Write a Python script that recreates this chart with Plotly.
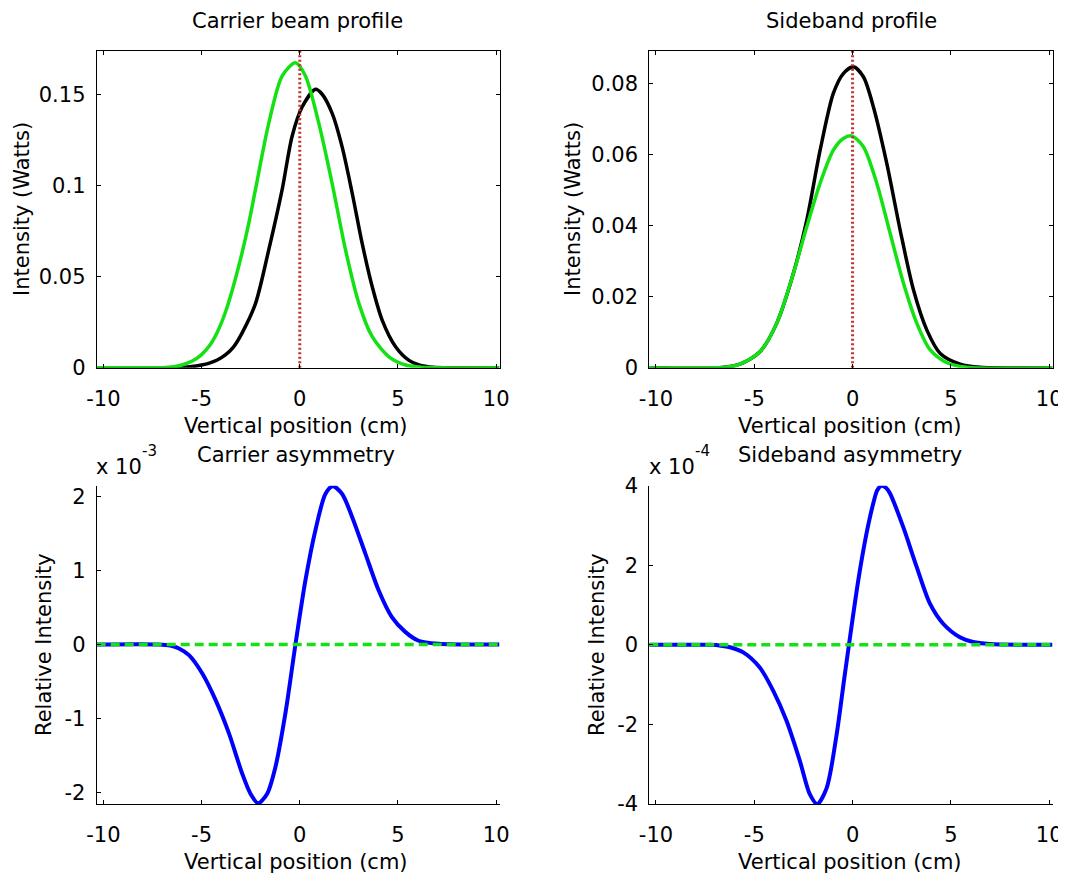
import plotly.graph_objects as go

# ---------------- data ----------------
# Carrier beam profile (top-left)
carrier_black_x = [-10.34, -7.0, -6.0, -5.5, -5.0, -4.64, -4.2, -3.79, -3.4, -2.94, -2.26, -1.58,
                   -0.90, -0.39, 0.12, 0.80, 1.14, 1.65, 2.16, 2.67, 3.18, 3.69, 4.2, 4.88, 5.56,
                   6.07, 6.8, 10.17]
carrier_black_y = [0, 0, 0.0002, 0.0006, 0.0015, 0.0024, 0.0042, 0.007, 0.011, 0.019, 0.035,
                   0.0646, 0.0975, 0.127, 0.143, 0.1527, 0.1500, 0.1395, 0.121, 0.0957, 0.068,
                   0.0444, 0.026, 0.0115, 0.004, 0.0015, 0.0002, 0]
carrier_green_x = [-10.34, -7.2, -6.6, -6.0, -5.5, -5.0, -4.6, -4.2, -3.8, -3.4, -2.94, -2.6,
                   -2.26, -1.58, -0.90, -0.22, 0.29, 0.97, 1.65, 2.33, 3.01, 3.69, 4.54, 5.39,
                   6.2, 10.17]
carrier_green_y = [0, 0, 0.0003, 0.0015, 0.0035, 0.0072, 0.012, 0.0195, 0.030, 0.044, 0.063,
                   0.079, 0.0975, 0.134, 0.160, 0.1673, 0.160, 0.134, 0.101, 0.0646, 0.0353,
                   0.017, 0.006, 0.0015, 0.0002, 0]

# Sideband profile (top-right)
side_black_x = [-10.34, -6.75, -5.73, -4.71, -3.86, -3.01, -2.33, -1.65, -0.98, -0.47, 0.04,
                0.55, 1.06, 1.74, 2.42, 3.1, 3.78, 4.46, 5.47, 6.5, 10.17]
side_black_y = [0, 0, 0.001, 0.0045, 0.0125, 0.0266, 0.0416, 0.0613, 0.0773, 0.0829, 0.0848,
                0.082, 0.0735, 0.0576, 0.0388, 0.0219, 0.0106, 0.004, 0.001, 0.0001, 0]
side_green_x = [-10.34, -6.5, -5.73, -4.71, -3.86, -3.01, -2.33, -1.65, -0.98, -0.47, -0.05,
                0.55, 1.23, 1.91, 2.59, 3.27, 3.95, 4.8, 5.8, 10.17]
side_green_y = [0, 0.0001, 0.001, 0.0045, 0.0125, 0.0266, 0.0397, 0.052, 0.0613, 0.0646, 0.0653,
                0.0623, 0.052, 0.0379, 0.0238, 0.0125, 0.005, 0.0014, 0.0001, 0]

# Beam centre reference (red dotted)
center_x = [0, 0]
carrier_center_y = [0, 0.174]
side_center_y = [0, 0.0894]

# Carrier asymmetry (bottom-left)
carrier_asym_x = [-10.34, -7.2, -6.6, -6.15, -5.64, -4.97, -4.29, -3.61, -2.93, -2.51, -2.12,
                  -1.66, -1.24, -0.73, -0.22, 0.29, 0.80, 1.31, 1.68, 2.15, 2.66, 3.34, 4.02,
                  4.69, 5.37, 6.05, 7.07, 10.17]
carrier_asym_y = [0, 0, -0.015e-3, -0.054e-3, -0.145e-3, -0.39e-3, -0.75e-3, -1.2e-3, -1.75e-3,
                  -2.02e-3, -2.15e-3, -2.02e-3, -1.66e-3, -0.93e-3, 0.0, 0.87e-3, 1.55e-3,
                  2.04e-3, 2.14e-3, 2.04e-3, 1.73e-3, 1.23e-3, 0.73e-3, 0.37e-3, 0.17e-3,
                  0.05e-3, 0.01e-3, 0]

# Sideband asymmetry (bottom-right)
side_asym_x = [-10.34, -7.2, -6.7, -6.24, -5.56, -4.72, -4.04, -3.36, -2.68, -2.17, -1.8, -1.32,
               -0.81, -0.39, 0.29, 0.71, 1.05, 1.25, 1.47, 1.7, 1.9, 2.57, 3.26, 3.93, 4.61,
               5.46, 6.13, 6.98, 10.17]
side_asym_y = [0, 0, -0.02e-4, -0.06e-4, -0.19e-4, -0.57e-4, -1.15e-4, -1.91e-4, -2.92e-4,
               -3.76e-4, -4.0e-4, -3.6e-4, -2.25e-4, -0.73e-4, 1.62e-4, 2.8e-4, 3.55e-4,
               3.88e-4, 4.0e-4, 3.95e-4, 3.81e-4, 2.97e-4, 1.96e-4, 1.04e-4, 0.53e-4, 0.19e-4,
               0.07e-4, 0.02e-4, 0]

zero_x = [-10.34, 10.17]
zero_y = [0, 0]

x_ticks = [-10, -5, 0, 5, 10]
x_ticktext = ["-10", "-5", "0", "5", "10"]
carrier_yticks = [0, 0.05, 0.1, 0.15]
carrier_yticktext = ["0", "0.05", "0.1", "0.15"]
side_yticks = [0, 0.02, 0.04, 0.06, 0.08]
side_yticktext = ["0", "0.02", "0.04", "0.06", "0.08"]
carrier_asym_yticks = [-2e-3, -1e-3, 0, 1e-3, 2e-3]
carrier_asym_yticktext = ["-2", "-1", "0", "1", "2"]
side_asym_yticks = [-4e-4, -2e-4, 0, 2e-4, 4e-4]
side_asym_yticktext = ["-4", "-2", "0", "2", "4"]

# ---------------- layout helpers ----------------
OFF = 8            # page body margin of the html wrapper
W, H = 1058, 865   # figure size so that the page is exactly 1066 x 881
FONT = "DejaVu Sans"
FS = 21
BLACK = "black"
GREEN = "rgb(20,225,20)"
BLUE = "rgb(0,0,255)"
RED = "rgb(190,50,50)"


def px_x(p):
    return (p - OFF) / W


def px_y(p):
    return 1 - (p - OFF) / H


LEFT = [px_x(96.7), px_x(499.5)]
RIGHT = [px_x(649.3), px_x(1052.5)]
TOP = [px_y(367.7), px_y(50.5)]
BOT = [px_y(804), px_y(485.7)]
X_RANGE = [-10.34, 10.17]

fig = go.Figure()


def line(x, y, color, xa, ya, width=3.5, dash="solid", shape="spline"):
    fig.add_trace(go.Scatter(x=x, y=y, mode="lines", xaxis=xa, yaxis=ya,
                             line=dict(color=color, width=width, dash=dash, shape=shape,
                                       smoothing=0.8 if shape == "spline" else None),
                             hoverinfo="skip", showlegend=False))


line(carrier_black_x, carrier_black_y, BLACK, "x", "y")
line(carrier_green_x, carrier_green_y, GREEN, "x", "y")
line(center_x, carrier_center_y, RED, "x", "y", width=3, dash="2px,2.5px", shape="linear")

line(side_black_x, side_black_y, BLACK, "x2", "y2")
line(side_green_x, side_green_y, GREEN, "x2", "y2")
line(center_x, side_center_y, RED, "x2", "y2", width=3, dash="2px,2.5px", shape="linear")

line(carrier_asym_x, carrier_asym_y, BLUE, "x3", "y3", width=4)
line(zero_x, zero_y, GREEN, "x3", "y3", width=3.5, dash="9px,5px", shape="linear")

line(side_asym_x, side_asym_y, BLUE, "x4", "y4", width=4)
line(zero_x, zero_y, GREEN, "x4", "y4", width=3.5, dash="9px,5px", shape="linear")


def xaxis(domain, anchor, mirror):
    return dict(domain=domain, anchor=anchor, range=X_RANGE, tickvals=x_ticks,
                ticktext=x_ticktext, ticks="inside", ticklen=4, tickcolor=BLACK,
                showline=True, linecolor=BLACK, linewidth=1, mirror=mirror,
                showgrid=False, zeroline=False, automargin=False, ticklabelstandoff=12,
                tickfont=dict(family=FONT, size=FS, color=BLACK))


def yaxis(domain, anchor, rng, tv, tt, mirror):
    return dict(domain=domain, anchor=anchor, range=rng, tickvals=tv, ticktext=tt,
                ticks="inside", ticklen=4, tickcolor=BLACK,
                showline=True, linecolor=BLACK, linewidth=1, mirror=mirror,
                showgrid=False, zeroline=False, automargin=False, ticklabelstandoff=6,
                tickfont=dict(family=FONT, size=FS, color=BLACK))


fig.update_layout(
    width=W, height=H, autosize=False,
    margin=dict(l=0, r=0, t=0, b=0),
    paper_bgcolor="white", plot_bgcolor="white",
    showlegend=False,
    font=dict(family=FONT, size=FS, color=BLACK),
    xaxis=xaxis(LEFT, "y", "ticks"),
    yaxis=yaxis(TOP, "x", [0, 0.174], carrier_yticks, carrier_yticktext, "ticks"),
    xaxis2=xaxis(RIGHT, "y2", "ticks"),
    yaxis2=yaxis(TOP, "x2", [0, 0.0894], side_yticks, side_yticktext, "ticks"),
    xaxis3=xaxis(LEFT, "y3", False),
    yaxis3=yaxis(BOT, "x3", [-2.16e-3, 2.149e-3], carrier_asym_yticks, carrier_asym_yticktext, False),
    xaxis4=xaxis(RIGHT, "y4", False),
    yaxis4=yaxis(BOT, "x4", [-4e-4, 4e-4], side_asym_yticks, side_asym_yticktext, False),
)


def note(text, x, y, angle=0, xanchor="center", size=FS):
    fig.add_annotation(text=text, x=px_x(x), y=px_y(y), xref="paper", yref="paper",
                       showarrow=False, textangle=angle, xanchor=xanchor, yanchor="middle",
                       font=dict(family=FONT, size=size, color=BLACK))


# subplot titles
note("Carrier beam profile", 297, 21)
note("Sideband profile", 851, 21)
note("Carrier asymmetry", 296, 455)
note("Sideband asymmetry", 850, 455)
# x-axis titles
note("Vertical position (cm)", 296, 426)
note("Vertical position (cm)", 850, 426)
note("Vertical position (cm)", 296, 862)
note("Vertical position (cm)", 850, 862)
# y-axis titles
note("Intensity (Watts)", 22, 209, angle=-90)
note("Intensity (Watts)", 573, 209, angle=-90)
note("Relative Intensity", 44, 645, angle=-90)
note("Relative Intensity", 597, 645, angle=-90)
# exponent labels (MATLAB-style axis multiplier)
note("x 10", 94, 467, xanchor="left")
note("-3", 140, 451, xanchor="left", size=15)
note("x 10", 647, 467, xanchor="left")
note("-4", 693, 451, xanchor="left", size=15)

fig.write_html("out.html")
